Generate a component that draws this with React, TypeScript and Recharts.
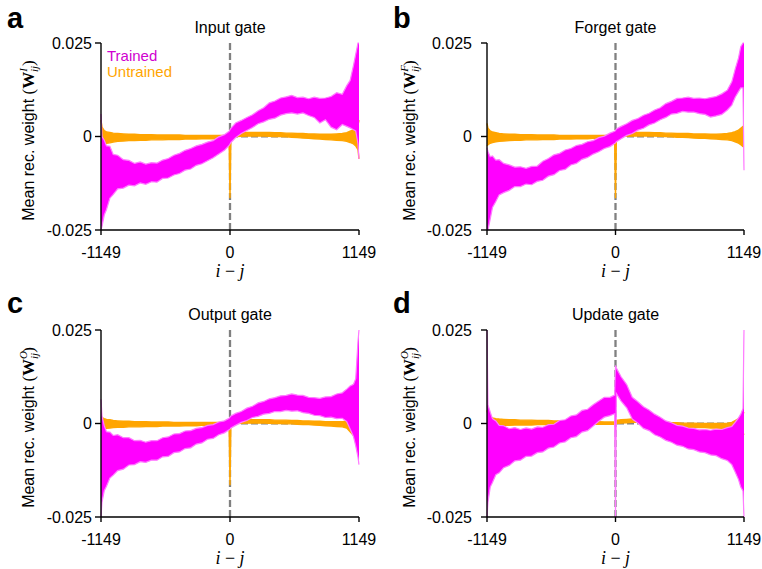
import React from 'react';
import {
  ComposedChart, Area, XAxis, YAxis, ReferenceLine, Legend, Label,
} from 'recharts';

// ─── Style tokens ──────────────────────────────────────────────────────────────
const SANS = '"Liberation Sans", Arial, Helvetica, sans-serif';
const SERIF = '"Liberation Serif", "DejaVu Serif", serif';

const CLR = {
  trained: '#ff00ff',
  trainedEdge: '#ff7cff',
  untrained: '#ffa500',
  trainedText: '#d000d0',
  ref: '#808080',
  axis: '#000000',
};

const SERIES = ['Trained', 'Untrained'];
const TEXT_CLR: Record<string, string> = { Trained: CLR.trainedText, Untrained: CLR.untrained };

// ─── Data (weights in units of 1e-3) ───────────────────────────────────────────
// offset i - j
const OFFSETS = [
  -1149, -1140, -1120, -1100, -1070, -1040,
  -1000, -950, -900, -850, -800, -750, -700, -650, -600, -550,
  -500, -450, -400, -350, -300, -250, -200, -150, -100, -50,
  -8, 0, 8,
  50, 100, 150, 200, 250, 300, 350, 400, 450, 500,
  550, 600, 650, 700, 750, 800, 850, 900, 950, 1000,
  1040, 1070, 1100, 1120, 1140, 1149,
];

const X_TICKS = [-1149, 0, 1149];
const Y_TICKS = [-25, 0, 25];

// a: input gate
const A_TR_LO = [
  -25, -24, -21, -19.5, -16.5, -15.5,
  -14, -13.8, -13, -13.2, -12.4, -12.8, -12.1, -12.2, -11.2, -11.1,
  -10.3, -9.9, -9, -8.7, -7.7, -7.3, -6.5, -5.7, -4.7, -3.7,
  -2.4, -2, -1.6,
  -0.3, 0.8, 1.6, 2.4, 3.4, 3.9, 4.6, 4.9, 5.7, 6.1,
  6.3, 6, 6.3, 5.6, 5.1, 3.6, 4.5, 2.5, 1.8, 3.2,
  2.7, 2.3, 1.8, 1.5, -2, -6,
];
const A_TR_HI = [
  6, 0, -1, -2.5, -2.6, -4.8,
  -5, -6.2, -6.4, -7.2, -6.8, -7.4, -7, -7.1, -6.3, -5.9,
  -5, -4.5, -3.7, -3.2, -2.5, -2.1, -1.5, -1.1, -0.1, 0.5,
  1.4, 1.8, 2.2,
  3.6, 4.3, 5.1, 5.8, 6.9, 7.7, 9, 9.5, 10.3, 10.6,
  11, 10.4, 10.5, 10.1, 10.5, 10.2, 10.3, 10.7, 11.7, 11.3,
  13.6, 15, 19, 22, 25, 25,
];
const A_UN_LO = [
  -3, -2.7, -2.2, -1.8, -1.7, -1.5,
  -1.3, -1.2, -1.1, -1.1, -1, -1, -0.9, -0.9, -0.9, -0.8,
  -0.8, -0.8, -0.7, -0.7, -0.7, -0.6, -0.6, -0.6, -0.5, -0.5,
  -0.5, -16.5, -0.1,
  0, 0.05, 0.1, 0.1, 0.1, 0.1, 0.05, 0, 0, -0.1,
  -0.2, -0.3, -0.4, -0.5, -0.6, -0.7, -0.8, -0.9, -1, -1.1,
  -1.3, -1.6, -2, -2.5, -3.5, -6,
];
const A_UN_HI = [
  4.4, 2.5, 1.6, 1.2, 1.1, 0.9,
  0.8, 0.7, 0.6, 0.6, 0.5, 0.5, 0.5, 0.4, 0.4, 0.4,
  0.4, 0.4, 0.3, 0.3, 0.3, 0.3, 0.3, 0.3, 0.3, 0.3,
  0.4, 0.6, 0.8,
  0.9, 1, 1.1, 1.1, 1.1, 1.1, 1.1, 1, 1, 0.9,
  0.9, 0.8, 0.8, 0.7, 0.7, 0.6, 0.6, 0.6, 0.7, 0.8,
  1, 1.4, 1.8, 2.2, 3, 4.4,
];

// b: forget gate
const B_TR_LO = [
  -25, -25, -22, -19, -17.4, -15.6,
  -15, -14.4, -13.4, -13.4, -12.7, -12.9, -12, -11.7, -10.6, -10.2,
  -9.1, -8.8, -7.6, -7.2, -6.1, -5.6, -4.7, -4.1, -3.2, -2.7,
  -1.9, -1.7, -1.4,
  -0.6, 0.3, 0.8, 1.7, 2.2, 3.1, 3.6, 4.5, 5.1, 6,
  6.2, 6.7, 6.5, 6.5, 6.1, 5.9, 5.2, 5.5, 5.9, 7.1,
  8.4, 10.5, 12, 13, 13, -9,
];
const B_TR_HI = [
  -3, -4, -5.4, -5.2, -6.3, -6.2,
  -7.2, -7.6, -8.2, -8.1, -8.5, -8, -7.9, -6.6, -5.9, -4.9,
  -4.5, -3.6, -3.2, -2.4, -2.1, -1.4, -1.1, -0.3, 0.1, 0.9,
  1.4, 1.6, 2,
  2.7, 3.4, 4.3, 4.8, 5.7, 6.2, 7.1, 7.7, 8.8, 9.4,
  10.2, 10.3, 10.5, 10.2, 10.3, 10.1, 10.4, 10.7, 11.4, 12.4,
  14.6, 18, 21, 24, 25, 25,
];
const B_UN_LO = [
  -2.5, -2.2, -1.8, -1.6, -1.4, -1.3,
  -1.2, -1.1, -1, -1, -0.9, -0.9, -0.9, -0.8, -0.8, -0.8,
  -0.7, -0.7, -0.7, -0.6, -0.6, -0.6, -0.5, -0.5, -0.5, -0.4,
  -0.4, -16.5, 0,
  0.05, 0.1, 0.1, 0.15, 0.15, 0.1, 0.1, 0.05, 0, -0.1,
  -0.2, -0.2, -0.3, -0.4, -0.5, -0.5, -0.6, -0.7, -0.8, -0.9,
  -1.1, -1.4, -1.8, -2.2, -2.7, -2.7,
];
const B_UN_HI = [
  3.5, 2.2, 1.5, 1.2, 1, 0.8,
  0.7, 0.6, 0.6, 0.5, 0.5, 0.5, 0.4, 0.4, 0.4, 0.4,
  0.3, 0.3, 0.3, 0.3, 0.3, 0.3, 0.3, 0.3, 0.3, 0.3,
  0.4, 0.6, 0.8,
  0.9, 1, 1, 1.1, 1.1, 1.1, 1, 1, 0.9, 0.9,
  0.8, 0.8, 0.8, 0.7, 0.7, 0.7, 0.6, 0.6, 0.7, 0.8,
  1, 1.3, 1.7, 2.2, 2.7, 2.7,
];

// c: output gate
const C_TR_LO = [
  -25, -21, -18, -16.8, -14.6, -13.8,
  -12.6, -12.2, -11.1, -11, -10.2, -10.4, -9.8, -9.8, -8.9, -8.8,
  -7.8, -7.6, -6.7, -6.5, -5.5, -5.2, -4.2, -4, -3, -2.5,
  -1.7, -1.5, -1.2,
  -0.5, 0.3, 0.8, 1.6, 1.9, 2.5, 2.7, 3.2, 3.2, 3.5,
  3.3, 3.4, 2.9, 2.7, 2.2, 2.1, 1.6, 1.7, 1.3, 1.4,
  0.5, -1.5, -3.5, -6, -9, -11,
];
const C_TR_HI = [
  6.5, 2, -0.6, -2.2, -2.3, -3.2,
  -3, -3.8, -3.8, -4.6, -4.5, -5, -4.6, -4.6, -3.8, -3.6,
  -2.8, -2.7, -2, -1.9, -1.3, -1.1, -0.5, -0.3, 0.4, 0.7,
  1.4, 1.7, 2,
  2.7, 3.2, 4.1, 4.6, 5.5, 5.9, 6.6, 6.9, 7.4, 7.5,
  7.9, 7.6, 7.5, 7, 6.9, 6.7, 7.1, 7.2, 7.9, 8.2,
  9.2, 10, 10.5, 12, 22, 25,
];
const C_UN_LO = [
  -1.8, -1.6, -1.4, -1.3, -1.2, -1.1,
  -1, -1, -0.9, -0.9, -0.9, -0.8, -0.8, -0.8, -0.7, -0.7,
  -0.7, -0.7, -0.6, -0.6, -0.6, -0.5, -0.5, -0.5, -0.5, -0.4,
  -0.4, -16.5, 0,
  0, 0.05, 0.1, 0.1, 0.1, 0.1, 0.05, 0, 0, -0.1,
  -0.1, -0.2, -0.3, -0.3, -0.4, -0.5, -0.6, -0.7, -0.8, -0.9,
  -1.2, -2.2, -3.2, -2.5, -2.2, -2.2,
];
const C_UN_HI = [
  1.8, 1.6, 1.3, 1.1, 1, 0.8,
  0.7, 0.6, 0.6, 0.5, 0.5, 0.5, 0.4, 0.4, 0.4, 0.4,
  0.3, 0.3, 0.3, 0.3, 0.3, 0.3, 0.3, 0.3, 0.3, 0.3,
  0.4, 0.6, 0.8,
  0.9, 1, 1, 1, 1, 1, 1, 0.9, 0.9, 0.9,
  0.8, 0.8, 0.7, 0.7, 0.6, 0.6, 0.5, 0.5, 0.5, 0.5,
  0.6, 0.6, 0.2, 0.8, 1.8, 1.8,
];

// d: update gate
const D_TR_LO = [
  -25, -21, -17, -15.8, -13.7, -13.2,
  -11.8, -11.2, -10, -9.8, -8.8, -8.7, -7.8, -7.6, -6.6, -6.3,
  -5.2, -4.9, -3.8, -3.5, -2.3, -1.9, -0.7, 0.6, 1.7, 2.1,
  2.6, -25, 8,
  6, 4.2, 1.2, 0.1, -1.3, -1.9, -3, -3.6, -4.5, -5,
  -5.8, -6.1, -6.8, -7, -7.6, -7.8, -8.4, -8.6, -9.4, -9.9,
  -11, -13, -15, -17, -18, -25,
];
const D_TR_HI = [
  25, 5, 3, 1.3, 0.7, -0.5,
  -0.6, -1.4, -1.1, -1.6, -1.2, -1.5, -0.9, -1, -0.3, -0.2,
  0.8, 1, 2, 2.3, 3.5, 3.8, 5, 6, 7, 7,
  7.6, 15.5, 14.8,
  12.5, 10.4, 7, 5.8, 4.5, 3.6, 2.5, 1.7, 0.7, 0.2,
  -0.5, -0.7, -1.2, -1.3, -1.7, -1.6, -1.8, -1.5, -1.6, -1.1,
  -0.8, 0.3, 1.5, 2.5, 4, 25,
];
const D_UN_LO = [
  -1.5, -1.3, -1.2, -1, -0.8, -0.6,
  -0.5, -0.5, -0.4, -0.4, -0.4, -0.4, -0.3, -0.3, -0.3, -0.3,
  -0.3, -0.3, -0.3, -0.3, -0.3, -0.2, -0.2, -0.2, -0.2, -0.2,
  -0.2, -0.2, 0,
  0.1, 0.2, 0.3, 0.3, 0.2, 0.1, 0, -0.3, -0.5, -0.7,
  -0.8, -0.9, -1, -1, -1.1, -1.1, -1.2, -1.2, -1.3, -1.3,
  -1.4, -1.6, -2, -2.2, -2.5, -3,
];
const D_UN_HI = [
  3.5, 2.5, 1.8, 1.5, 1.3, 1.2,
  1.1, 1, 1, 0.9, 0.9, 0.9, 0.8, 0.8, 0.8, 0.7,
  0.7, 0.7, 0.6, 0.6, 0.6, 0.5, 0.5, 0.5, 0.4, 0.4,
  0.4, 0.4, 0.8,
  1, 1.1, 1.2, 1.2, 1.2, 1.1, 0.9, 0.6, 0.4, 0.2,
  0.2, 0.1, 0.1, 0.1, 0, 0, 0, 0, 0, 0.1,
  0.3, 0.8, 1.3, 1.8, 2.5, 3,
];

function buildRows(trLo: number[], trHi: number[], unLo: number[], unHi: number[]) {
  return OFFSETS.map((x, i) => ({
    x,
    trained: [trLo[i], trHi[i]],
    untrained: [unLo[i], unHi[i]],
  }));
}

const fmtY = (v: number) => String(v / 1000);

// ─── Panel ─────────────────────────────────────────────────────────────────────
interface PanelProps {
  letter: string;
  title: string;
  sup: string;
  supW: number;
  rows: ReturnType<typeof buildRows>;
  left: number;
  top: number;
  letterX: number;
  plot: { l: number; r: number; t: number; b: number };
  yTickMargin: number;
  legend?: boolean;
}

const W = 381;
const H = 285;
const Y_AXIS_W = 60;
const X_AXIS_H = 30;

function renderLegend(props: any) {
  const items = [...(props.payload ?? [])].sort(
    (a: any, b: any) => SERIES.indexOf(a.value) - SERIES.indexOf(b.value),
  );
  return (
    <div style={{ fontFamily: SANS, fontSize: 15, lineHeight: '16px' }}>
      {items.map((it: any) => (
        <div key={it.value} style={{ color: TEXT_CLR[it.value] }}>{it.value}</div>
      ))}
    </div>
  );
}

function Panel(p: PanelProps) {
  const margin = {
    top: p.plot.t,
    right: W - p.plot.r,
    left: p.plot.l - Y_AXIS_W,
    bottom: H - p.plot.b - X_AXIS_H,
  };
  const tick = { fill: '#000', fontSize: 16, fontFamily: SANS };
  const abs: React.CSSProperties = { position: 'absolute', left: 0, top: 0 };

  const xLabel = (lp: any) => {
    const vb = lp.viewBox;
    return (
      <text x={vb.x + vb.width / 2} y={vb.y + 47} textAnchor="middle"
        fontFamily={SERIF} fontSize={18} fill="#000">
        <tspan fontStyle="italic">i</tspan>
        <tspan> − </tspan>
        <tspan fontStyle="italic">j</tspan>
      </text>
    );
  };

  const yLabel = (lp: any) => {
    const vb = lp.viewBox;
    const cx = 34;
    const cy = vb.y + vb.height / 2 + 4;
    return (
      <text x={cx} y={cy} transform={`rotate(-90 ${cx} ${cy})`} textAnchor="middle"
        fontFamily={SANS} fontSize={16} fill="#000">
        Mean rec. weight{' '}
        <tspan fontFamily={SERIF} fontSize={17}>(</tspan>
        <tspan fontFamily={SERIF} fontSize={17} fontWeight="bold">W</tspan>
        <tspan fontFamily={SERIF} fontSize={11} fontStyle="italic" dy={-7}>{p.sup}</tspan>
        <tspan fontFamily={SERIF} fontSize={11} fontStyle="italic" dx={-p.supW} dy={11}>ij</tspan>
        <tspan fontFamily={SERIF} fontSize={17} dy={-4}>)</tspan>
      </text>
    );
  };

  const xDomain: [number, number] = [-1149, 1149];
  const yDomain: [number, number] = [-25, 25];

  return (
    <div style={{ position: 'absolute', left: p.left, top: p.top, width: W, height: H }}>
      {/* back layer: dashed guides, same plot box, drawn under the data */}
      <div style={abs}>
        <ComposedChart width={W} height={H} data={p.rows} margin={margin}>
          <XAxis dataKey="x" type="number" domain={xDomain} ticks={X_TICKS}
            height={X_AXIS_H} tick={false} axisLine={false} tickLine={false} />
          <YAxis type="number" domain={yDomain} ticks={Y_TICKS}
            width={Y_AXIS_W} tick={false} axisLine={false} tickLine={false} />
          <Area type="linear" dataKey="untrained" fill="none" stroke="none"
            isAnimationActive={false} dot={false} activeDot={false} legendType="none" />
          <ReferenceLine y={0} stroke={CLR.ref} strokeWidth={1.8} strokeDasharray="7 3" />
          <ReferenceLine x={0} stroke={CLR.ref} strokeWidth={2.3} strokeDasharray="7 3" />
        </ComposedChart>
      </div>
      {/* front layer: data, axes, legend */}
      <div style={abs}>
        <ComposedChart width={W} height={H} data={p.rows} margin={margin}>
          <XAxis
            dataKey="x" type="number" domain={xDomain} ticks={X_TICKS}
            interval={0} height={X_AXIS_H} tickSize={5} tickMargin={12}
            tick={tick} axisLine={{ stroke: CLR.axis, strokeWidth: 1.4 }}
            tickLine={{ stroke: CLR.axis, strokeWidth: 1.4 }}
          >
            <Label content={xLabel} />
          </XAxis>
          <YAxis
            type="number" domain={yDomain} ticks={Y_TICKS} interval={0}
            width={Y_AXIS_W} tickSize={6} tickMargin={p.yTickMargin}
            tickFormatter={fmtY} tick={tick}
            axisLine={{ stroke: CLR.axis, strokeWidth: 1.4 }}
            tickLine={{ stroke: CLR.axis, strokeWidth: 1.4 }}
          >
            <Label content={yLabel} />
          </YAxis>
          <Area
            type="linear" dataKey="untrained" name="Untrained"
            fill={CLR.untrained} fillOpacity={1} stroke={CLR.untrained} strokeWidth={1.4}
            isAnimationActive={false} dot={false} activeDot={false}
          />
          <Area
            type="linear" dataKey="trained" name="Trained"
            fill={CLR.trained} fillOpacity={1} stroke={CLR.trainedEdge} strokeWidth={1.2}
            isAnimationActive={false} dot={false} activeDot={false}
          />
          {p.legend && (
            <Legend
              layout="vertical" align="center" verticalAlign="middle"
              content={renderLegend}
              wrapperStyle={{ left: 107, top: 48, width: 'auto', height: 'auto' }}
            />
          )}
        </ComposedChart>
      </div>
      <svg width={W} height={H} style={{ ...abs, pointerEvents: 'none' }}>
        <text x={p.letterX} y={28} fontFamily={SANS} fontWeight="bold" fontSize={29} fill="#000">
          {p.letter}
        </text>
        <text x={(p.plot.l + p.plot.r) / 2} y={p.plot.t - 10} textAnchor="middle"
          fontFamily={SANS} fontSize={16} fill="#000">
          {p.title}
        </text>
      </svg>
    </div>
  );
}

export default function App() {
  const plotA = { l: 101, r: 359, t: 43, b: 230 };
  const plotB = { l: 106, r: 363, t: 43, b: 230 };
  const plotC = { l: 101, r: 359, t: 45, b: 232 };
  const plotD = { l: 106, r: 363, t: 45, b: 232 };
  return (
    <div style={{ position: 'relative', width: 762, height: 569, background: '#fff' }}>
      <style>{'body{margin:0;}'}</style>
      <Panel letter="a" title="Input gate" sup="I" supW={4}
        rows={buildRows(A_TR_LO, A_TR_HI, A_UN_LO, A_UN_HI)}
        left={0} top={0} letterX={7} plot={plotA} yTickMargin={3} legend />
      <Panel letter="b" title="Forget gate" sup="F" supW={7}
        rows={buildRows(B_TR_LO, B_TR_HI, B_UN_LO, B_UN_HI)}
        left={381} top={0} letterX={12} plot={plotB} yTickMargin={9} />
      <Panel letter="c" title="Output gate" sup="O" supW={8}
        rows={buildRows(C_TR_LO, C_TR_HI, C_UN_LO, C_UN_HI)}
        left={0} top={285} letterX={7} plot={plotC} yTickMargin={3} />
      <Panel letter="d" title="Update gate" sup="O" supW={8}
        rows={buildRows(D_TR_LO, D_TR_HI, D_UN_LO, D_UN_HI)}
        left={381} top={285} letterX={12} plot={plotD} yTickMargin={9} />
    </div>
  );
}
